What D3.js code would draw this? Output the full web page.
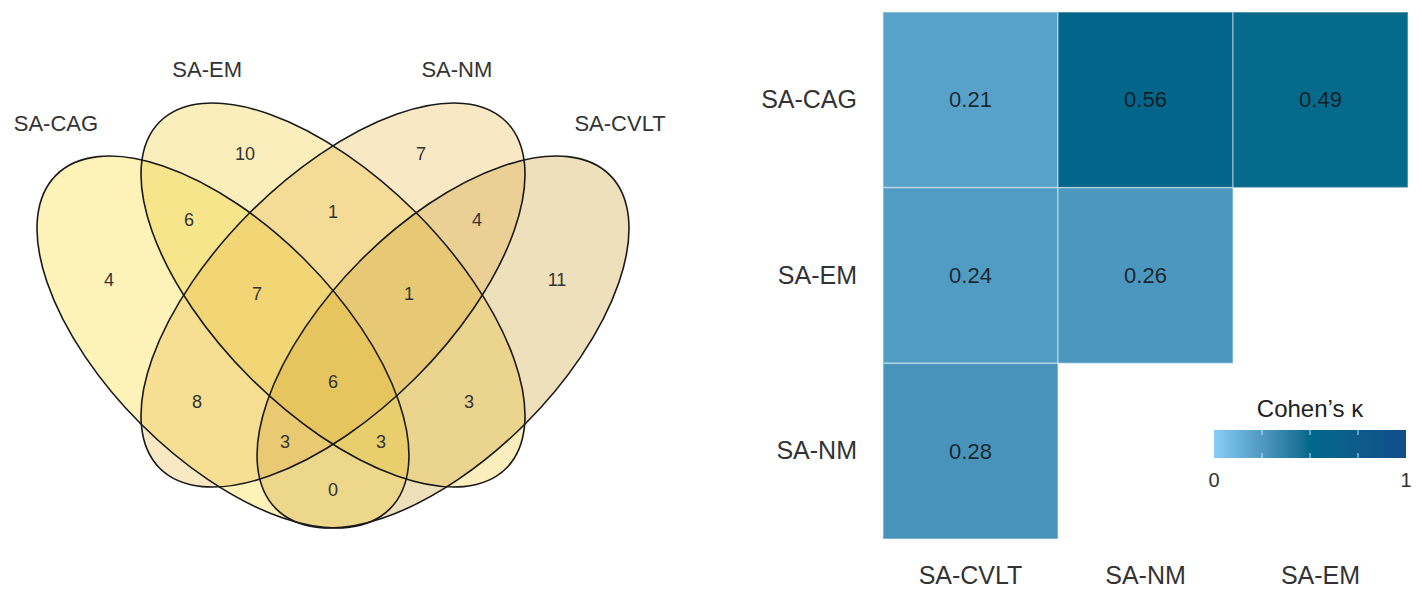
<!DOCTYPE html>
<html><head><meta charset="utf-8">
<script src="https://cdn.jsdelivr.net/npm/d3@7"></script>
<style>
body{margin:0;background:#fff;}
svg{display:block;font-family:"Liberation Sans",Arial,Helvetica,sans-serif;}
</style>
</head><body>
<svg id="chart" width="1422" height="589"></svg>
<script>
// ---------------- DATA ----------------
const vennSetNames = ["SA-CAG", "SA-EM", "SA-NM", "SA-CVLT"];
// region membership (indices into vennSetNames) and counts
const vennRegionSets = [
  [0], [1], [2], [3],
  [0,1], [1,2], [2,3],
  [0,1,2], [1,2,3],
  [0,2], [1,3],
  [0,2,3], [0,1,3],
  [0,3],
  [0,1,2,3]
];
const vennRegionCounts = [4, 10, 7, 11, 6, 1, 4, 7, 1, 8, 3, 3, 3, 0, 6];

const heatRows = ["SA-CAG", "SA-EM", "SA-NM"];
const heatCols = ["SA-CVLT", "SA-NM", "SA-EM"];
const kappaCAG = [0.21, 0.56, 0.49];   // vs SA-CVLT, SA-NM, SA-EM
const kappaEM  = [0.24, 0.26];         // vs SA-CVLT, SA-NM
const kappaNM  = [0.28];               // vs SA-CVLT
const legendTickValues = [0, 1];
const legendBreakValues = [0.25, 0.5, 0.75];
const legendTitle = "Cohen\u2019s \u03ba";

// ---------------- LAYOUT / STYLE ----------------
const svg = d3.select("#chart");

// Venn geometry in unit space (1 unit = 666 px)
const vennGeom = [
  {cx: 0.3348, cy: 0.5135, a: 0.3544, b: 0.1742, angle: 45},
  {cx: 0.5000, cy: 0.4430, a: 0.3679, b: 0.1757, angle: 45},
  {cx: 0.5000, cy: 0.4430, a: 0.3679, b: 0.1757, angle: -45},
  {cx: 0.6652, cy: 0.5135, a: 0.3544, b: 0.1742, angle: -45}
];
const vennFills = ["#F9D61E", "#ECCA2E", "#E9B747", "#CD9E2E"];
const vennAlpha = 0.32;
// set-name anchor positions in unit space
const vennNamePos = [[0.084, 0.185], [0.311, 0.104], [0.686, 0.104], [0.931, 0.185]];

const vx = d3.scaleLinear().domain([0, 1]).range([0, 666]);
const vy = d3.scaleLinear().domain([0, 1]).range([0, 666]);
const vlen = d => vx(d) - vx(0);

const ell = vennGeom.map(g => ({X: vx(g.cx), Y: vy(g.cy), A: vlen(g.a), B: vlen(g.b), t: g.angle * Math.PI / 180}));

const gV = svg.append("g");
gV.selectAll("ellipse.fill").data(ell).join("ellipse")
  .attr("class", "fill")
  .attr("transform", d => `translate(${d.X},${d.Y}) rotate(${d.t * 180 / Math.PI})`)
  .attr("rx", d => d.A).attr("ry", d => d.B)
  .attr("fill", (d, i) => vennFills[i]).attr("fill-opacity", vennAlpha)
  .attr("stroke", "none");
gV.selectAll("ellipse.line").data(ell).join("ellipse")
  .attr("class", "line")
  .attr("transform", d => `translate(${d.X},${d.Y}) rotate(${d.t * 180 / Math.PI})`)
  .attr("rx", d => d.A).attr("ry", d => d.B)
  .attr("fill", "none").attr("stroke", "#1a1a1a").attr("stroke-width", 1.6);

// label position for each region: pole of inaccessibility on a symmetric grid
function member(px, py) {
  let code = 0;
  ell.forEach((e, i) => {
    const dx = px - e.X, dy = py - e.Y;
    const p = dx * Math.cos(e.t) + dy * Math.sin(e.t);
    const q = -dx * Math.sin(e.t) + dy * Math.cos(e.t);
    if ((p * p) / (e.A * e.A) + (q * q) / (e.B * e.B) <= 1) code |= (1 << i);
  });
  return code;
}
const boundary = [];
ell.forEach(e => {
  for (let k = 0; k < 360; k++) {
    const s = k * Math.PI / 180;
    const lx = e.A * Math.cos(s), ly = e.B * Math.sin(s);
    boundary.push([e.X + lx * Math.cos(e.t) - ly * Math.sin(e.t), e.Y + lx * Math.sin(e.t) + ly * Math.cos(e.t)]);
  }
});
const axisX = vx(0.5);
const best = {};
for (let ix = -160; ix <= 160; ix++) {
  const px = axisX + ix * 2;
  for (let py = 80; py <= 545; py += 2) {
    const c = member(px, py);
    if (!c) continue;
    let dmin = Infinity;
    for (let j = 0; j < boundary.length; j++) {
      const ddx = boundary[j][0] - px, ddy = boundary[j][1] - py;
      const d2 = ddx * ddx + ddy * ddy;
      if (d2 < dmin) dmin = d2;
    }
    if (!best[c] || dmin > best[c].d + 1e-6) best[c] = {d: dmin, x: px, y: py};
  }
}
const regionLabels = vennRegionSets.map((s, i) => {
  const code = s.reduce((acc, k) => acc | (1 << k), 0);
  const b = best[code] || {x: 0, y: 0};
  return {x: b.x, y: b.y, v: vennRegionCounts[i]};
});
gV.selectAll("text.cnt").data(regionLabels).join("text")
  .attr("class", "cnt")
  .attr("x", d => d.x).attr("y", d => d.y)
  .attr("text-anchor", "middle").attr("dominant-baseline", "central")
  .attr("font-size", 18).attr("fill", "#333")
  .text(d => d.v);
gV.selectAll("text.set").data(vennSetNames).join("text")
  .attr("class", "set")
  .attr("x", (d, i) => vx(vennNamePos[i][0])).attr("y", (d, i) => vy(vennNamePos[i][1]))
  .attr("text-anchor", "middle").attr("dominant-baseline", "central")
  .attr("font-size", 22).attr("fill", "#333")
  .text(d => d);

// ---------------- HEATMAP ----------------
const hx = d3.scaleBand().domain(heatCols).range([883, 1408]).padding(0);
const hy = d3.scaleBand().domain(heatRows).range([12, 539]).padding(0);
const kappaColor = d3.scaleLinear().domain([0, 0.5, 1])
  .range(["#87CEFA", "#00688B", "#104E8B"]).interpolate(d3.interpolateLab);

const cells = [];
[kappaCAG, kappaEM, kappaNM].forEach((arr, r) => arr.forEach((v, c) => cells.push({row: heatRows[r], col: heatCols[c], v})));

const gH = svg.append("g");
gH.selectAll("rect").data(cells).join("rect")
  .attr("x", d => hx(d.col)).attr("y", d => hy(d.row))
  .attr("width", hx.bandwidth()).attr("height", hy.bandwidth())
  .attr("fill", d => kappaColor(d.v))
  .attr("stroke", "rgba(255,255,255,0.4)").attr("stroke-width", 1.5);
gH.selectAll("text.val").data(cells).join("text")
  .attr("class", "val")
  .attr("x", d => hx(d.col) + hx.bandwidth() / 2).attr("y", d => hy(d.row) + hy.bandwidth() / 2)
  .attr("text-anchor", "middle").attr("dominant-baseline", "central")
  .attr("font-size", 22).attr("fill", "#111").attr("fill-opacity", 0.85)
  .text(d => d.v.toFixed(2));

// axes (ggplot style: no lines, only labels)
const yAxis = d3.axisLeft(hy).tickSize(0).tickPadding(26);
const gy = svg.append("g").attr("transform", "translate(883,0)").call(yAxis);
const xAxis = d3.axisBottom(hx).tickSize(0).tickPadding(27);
const gx = svg.append("g").attr("transform", "translate(0,539)").call(xAxis);
[gy, gx].forEach(g => {
  g.select(".domain").remove();
  g.selectAll("text").attr("font-size", 25).attr("fill", "#333")
    .attr("font-family", "Liberation Sans, Arial, sans-serif");
});

// ---------------- LEGEND ----------------
const lx = d3.scaleLinear().domain([0, 1]).range([1214, 1406]);
const barY = 430, barH = 28;
const defs = svg.append("defs");
const grad = defs.append("linearGradient").attr("id", "kgrad").attr("x1", "0%").attr("x2", "100%");
d3.range(0, 1.0001, 0.05).forEach(t => grad.append("stop").attr("offset", (t * 100) + "%").attr("stop-color", kappaColor(t)));
const gL = svg.append("g");
gL.append("rect").attr("x", lx(0)).attr("y", barY).attr("width", lx(1) - lx(0)).attr("height", barH).attr("fill", "url(#kgrad)");
gL.selectAll("line.tt").data(legendBreakValues).join("line")
  .attr("x1", d => lx(d)).attr("x2", d => lx(d)).attr("y1", barY).attr("y2", barY + 5)
  .attr("stroke", "rgba(255,255,255,0.8)").attr("stroke-width", 1);
gL.selectAll("line.tb").data(legendBreakValues).join("line")
  .attr("x1", d => lx(d)).attr("x2", d => lx(d)).attr("y1", barY + barH - 5).attr("y2", barY + barH)
  .attr("stroke", "rgba(255,255,255,0.8)").attr("stroke-width", 1);
gL.selectAll("text.tl").data(legendTickValues).join("text")
  .attr("x", d => lx(d)).attr("y", 480)
  .attr("text-anchor", "middle").attr("dominant-baseline", "central")
  .attr("font-size", 20).attr("fill", "#333").text(d => d);
gL.append("text").attr("x", (lx(0) + lx(1)) / 2).attr("y", 408)
  .attr("text-anchor", "middle").attr("dominant-baseline", "central")
  .attr("font-size", 24).attr("fill", "#222").text(legendTitle);
</script>
</body></html>
